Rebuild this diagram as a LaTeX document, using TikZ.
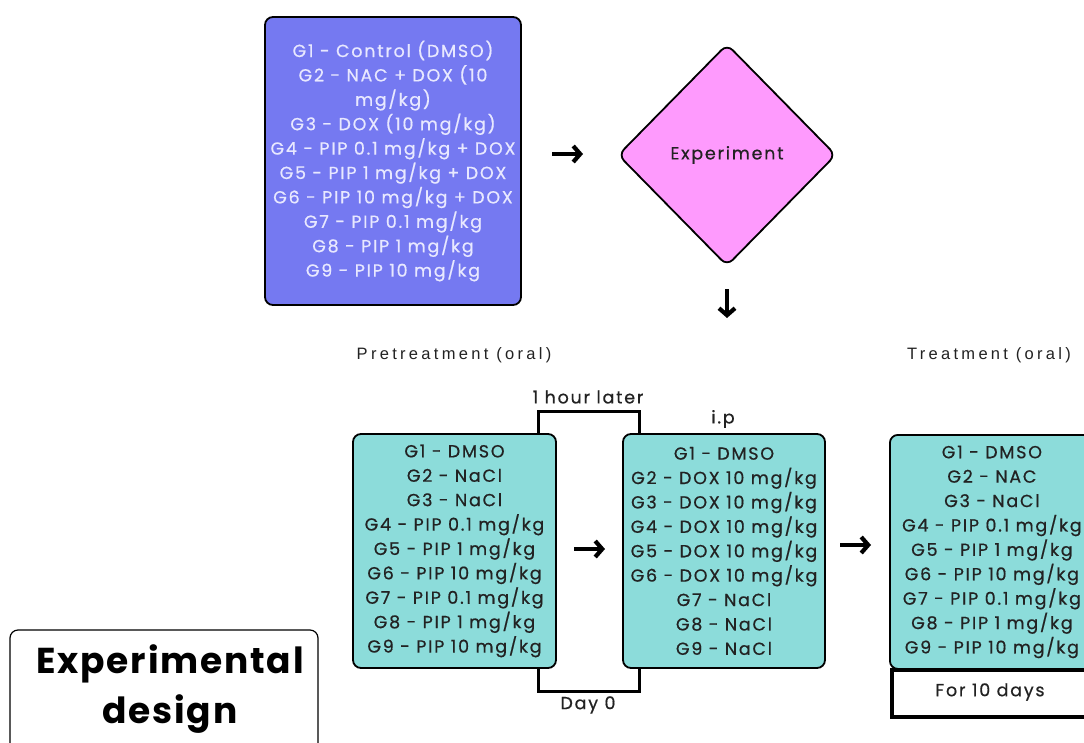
\documentclass[tikz,border=0pt]{standalone}
\usepackage{fontspec}
\usetikzlibrary{shapes.geometric,arrows.meta}
\newfontfamily\boxfont[LetterSpace=10,FakeBold=0.6]{Poppins}
\newfontfamily\titlefont[LetterSpace=5]{Poppins}
\newfontfamily\labfont[LetterSpace=20]{Liberation Sans}
\definecolor{purplefill}{HTML}{7579F1}
\definecolor{purpletext}{HTML}{E8E8FF}
\definecolor{pinkfill}{HTML}{FE9AFD}
\definecolor{tealfill}{HTML}{8CDCDA}
\definecolor{darktext}{HTML}{222222}
\tikzset{
  roundbox/.style={draw=black,line width=1.8pt,rounded corners=8pt,inner sep=0pt,align=center},
  grouptext/.style={font=\boxfont\fontsize{17.5}{24.4}\selectfont,text=darktext},
  smalltext/.style={font=\boxfont\fontsize{17.5}{20}\selectfont,text=darktext},
  arr/.style={line width=4.2pt,-{Straight Barb[length=7pt,width=16pt,line width=4.2pt]}},
  bracket/.style={line width=3pt},
  lab/.style={font=\labfont\fontsize{16.5}{18}\selectfont,text=darktext},
}
\begin{document}
\begin{tikzpicture}[x=1pt,y=-1pt]
\useasboundingbox (0,0) rectangle (1084,742);
\fill[white] (0,0) rectangle (1084,742);

% groups box
\node[roundbox,fill=purplefill,minimum width=256pt,minimum height=288pt,
      font=\boxfont\fontsize{17.5}{24.4}\selectfont,text=purpletext] (groups) at (393,161)
  {G1 - Control (DMSO)\\G2 - NAC + DOX (10\\mg/kg)\\G3 - DOX (10 mg/kg)\\G4 - PIP 0.1 mg/kg + DOX\\G5 - PIP 1 mg/kg + DOX\\G6 - PIP 10 mg/kg + DOX\\G7 - PIP 0.1 mg/kg\\G8 - PIP 1 mg/kg\\G9 - PIP 10 mg/kg};

% diamond
\node[diamond,draw=black,line width=1.8pt,fill=pinkfill,rounded corners=8pt,
      minimum width=218pt,minimum height=222pt,inner sep=0pt,
      smalltext] (exp) at (727,155) {Experiment};

\coordinate (a1s) at (552,154);
\coordinate (a1e) at (583,154);
\draw[arr] (a1s) -- (a1e);
\coordinate (a2s) at (727,289);
\coordinate (a2e) at (727,318);
\draw[arr] (a2s) -- (a2e);

% labels
\node[lab] (pre) at (454,355) {Pretreatment (oral)};
\node[lab] (treat) at (989,355) {Treatment (oral)};

% teal boxes
\node[roundbox,fill=tealfill,minimum width=203pt,minimum height=234pt,grouptext] (pretr) at (454.5,551)
  {G1 - DMSO\\G2 - NaCl\\G3 - NaCl\\G4 - PIP 0.1 mg/kg\\G5 - PIP 1 mg/kg\\G6 - PIP 10 mg/kg\\G7 - PIP 0.1 mg/kg\\G8 - PIP 1 mg/kg\\G9 - PIP 10 mg/kg};
\node[roundbox,fill=tealfill,minimum width=202pt,minimum height=234pt,grouptext] (ip) at (724,551)
  {G1 - DMSO\\G2 - DOX 10 mg/kg\\G3 - DOX 10 mg/kg\\G4 - DOX 10 mg/kg\\G5 - DOX 10 mg/kg\\G6 - DOX 10 mg/kg\\G7 - NaCl\\G8 - NaCl\\G9 - NaCl};

% for 10 days box
\node[draw=black,line width=3.6pt,minimum width=214pt,minimum height=47pt,inner sep=0pt,anchor=north west] (days) at (890,668) {};
\node[smalltext] (daystext) at (990,692) {For 10 days};

\node[roundbox,fill=tealfill,minimum width=204pt,minimum height=234pt,grouptext,anchor=north west] (treatbox) at (889,434)
  {G1 - DMSO\\G2 - NAC\\G3 - NaCl\\G4 - PIP 0.1 mg/kg\\G5 - PIP 1 mg/kg\\G6 - PIP 10 mg/kg\\G7 - PIP 0.1 mg/kg\\G8 - PIP 1 mg/kg\\G9 - PIP 10 mg/kg};

\coordinate (a3s) at (574,549);
\coordinate (a3e) at (605,549);
\draw[arr] (a3s) -- (a3e);
\coordinate (a4s) at (840,545);
\coordinate (a4e) at (871,545);
\draw[arr] (a4s) -- (a4e);

% brackets
\coordinate (bt1) at (538,433);
\coordinate (bt2) at (639,433);
\draw[bracket] (bt1) -- (538,411) -- (639,411) -- (bt2);
\node[smalltext] (hour) at (588,397) {1 hour later};
\node[smalltext] (iplab) at (723,419) {i.p};
\coordinate (bb1) at (538,669);
\coordinate (bb2) at (639,669);
\draw[bracket] (bb1) -- (538,691) -- (639,691) -- (bb2);
\node[smalltext] (day0) at (588,705) {Day 0};

% title
\draw[line width=1.2pt,rounded corners=8pt] (10,760) -- (10,630) -- (318,630) -- (318,760);
\node[font=\titlefont\bfseries\fontsize{36}{50}\selectfont,align=center,text=black] (title) at (170,689) {Experimental\\design};
\end{tikzpicture}
\end{document}
